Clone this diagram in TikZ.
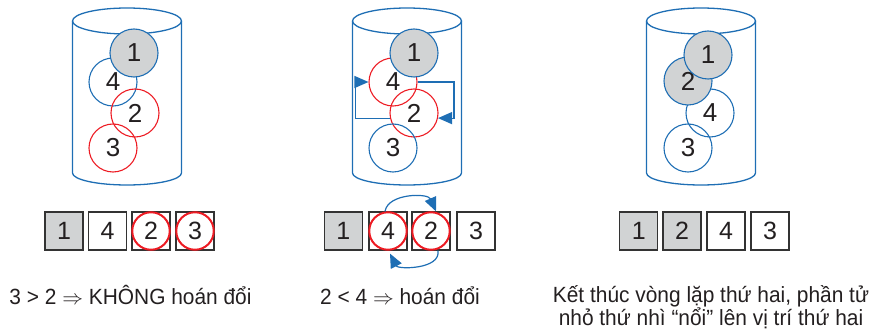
\documentclass[tikz,border=0pt]{standalone}
\usepackage{fontspec}
\setmainfont{Liberation Sans}
\newfontfamily\capfont{Liberation Sans}[FakeStretch=0.95]
\usetikzlibrary{arrows.meta}
\definecolor{cblue}{RGB}{30,110,180}
\definecolor{cred}{RGB}{237,28,36}
\definecolor{cgray}{RGB}{209,211,212}
\definecolor{ctext}{RGB}{35,31,32}
\begin{document}
\begin{tikzpicture}[x=1pt,y=-1pt,
  cyl/.style={draw=cblue,line width=1.3pt},
  ball/.style={circle,draw=cblue,line width=1.1pt,minimum size=48pt,inner sep=0pt,
    font=\fontsize{26}{26}\selectfont,text=ctext},
  rball/.style={ball,draw=cred},
  gball/.style={ball,fill=cgray},
  cell/.style={rectangle,draw=black!80,line width=1.2pt,minimum size=38pt,inner sep=0pt,
    font=\fontsize{25}{25}\selectfont,text=ctext},
  gcell/.style={cell,fill=cgray},
  redring/.style={circle,draw=cred,line width=2pt,minimum size=37.5pt,inner sep=0pt},
  barrow/.style={draw=cblue,line width=1.2pt,-{Triangle[length=14pt,width=12pt]}},
  caption/.style={font=\capfont\fontsize{22}{23}\selectfont,text=ctext,inner sep=0pt}
]
\useasboundingbox (0,0) rectangle (873,331);

% cylinders
\foreach \cx in {127,407,701} {
  \draw[cyl] (\cx,21) ellipse [x radius=54.5pt, y radius=13pt];
  \draw[cyl] (\cx-54.5,21) -- (\cx-54.5,173)
     arc[start angle=180,end angle=360,x radius=54.5pt,y radius=12pt] -- (\cx+54.5,21);
}

% cylinder 1
\node[ball]  (a4) at (113,82)  {4};
\node[rball] (a2) at (135,113) {2};
\node[rball] (a3) at (113,148) {3};
\node[gball] (a1) at (134,53)  {1};

% cylinder 2
\node[rball] (b4) at (393,82)  {4};
\node[rball] (b2) at (414,113) {2};
\node[ball]  (b3) at (393,148) {3};
\node[gball] (b1) at (414,53)  {1};
\draw[barrow] (b4.east) -- (454,82) |- (b2.-12);
\draw[barrow] (b2.192) -| (355.7,82) -- (b4.west);

% cylinder 3
\node[ball]  (c4) at (710,113) {4};
\node[ball]  (c3) at (688,148) {3};
\node[gball] (c2) at (688,81)  {2};
\node[gball] (c1) at (708,55)  {1};

% row 1
\node[gcell] (p1) at (64,231)    {1};
\node[cell]  (p2) at (107.5,231) {4};
\node[cell]  (p3) at (151,231)   {2};
\node[cell]  (p4) at (195,231)   {3};
\node[redring] (r1) at (p3) {};
\node[redring] (r2) at (p4) {};

% row 2
\node[gcell] (q1) at (343.3,231) {1};
\node[cell]  (q2) at (388,231)   {4};
\node[cell]  (q3) at (431,231)   {2};
\node[cell]  (q4) at (476,231)   {3};
\node[redring] (r3) at (q2) {};
\node[redring] (r4) at (q3) {};
\draw[barrow] ([xshift=-3pt]q2.north) .. controls (388,193) and (428,193) .. ([xshift=5pt]q3.north);
\draw[barrow] ([xshift=7pt]q3.south) .. controls (441,269.5) and (398,269.5) .. ([shift={(2pt,-3pt)}]q2.south);

% row 3
\node[gcell] (s1) at (638.7,231) {1};
\node[gcell] (s2) at (682,231)   {2};
\node[cell]  (s3) at (726,231)   {4};
\node[cell]  (s4) at (770,231)   {3};

% captions
\node[caption,anchor=base] (l1) at (130.5,305) {3 > 2 $\Rightarrow$ KHÔNG hoán đổi};
\node[caption,anchor=base] (l2) at (400,305) {2 < 4 $\Rightarrow$ hoán đổi};
\node[caption,anchor=base,align=center] (l3) at (711,325.5) {Kết thúc vòng lặp thứ hai, phần tử\\nhỏ thứ nhì “nổi” lên vị trí thứ hai};
\end{tikzpicture}
\end{document}
